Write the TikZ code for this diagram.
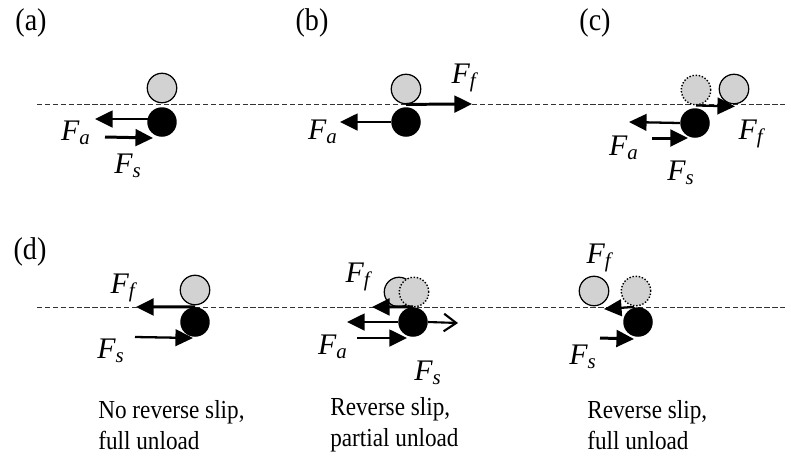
\documentclass[tikz,border=0pt]{standalone}
\usepackage{fontspec}
\setmainfont{Liberation Serif}
\usetikzlibrary{arrows.meta,positioning,calc}
\definecolor{Grain}{HTML}{D2D2D2}
\newcommand{\fsym}[1]{{\itshape F}\textsubscript{\itshape #1}}
\newcommand{\tallr}[1]{\scalebox{1}[1.12]{#1}}

\begin{document}
\begin{tikzpicture}[x=0.02cm,y=-0.02cm,
  grain/.style={circle,draw=black,line width=0.7pt,fill=Grain,minimum size=0.59cm,inner sep=0pt},
  ghost/.style={circle,draw=black,densely dotted,line width=0.8pt,fill=Grain,minimum size=0.59cm,inner sep=0pt},
  core/.style={circle,fill=black,minimum size=0.59cm,inner sep=0pt},
  force/.style={line width=1.3pt,-{Triangle[length=10pt,width=9.5pt]}},
  bigforce/.style={line width=1.7pt,-{Triangle[length=10pt,width=9.5pt]}},
  openforce/.style={line width=1.2pt,-{Straight Barb[length=7pt,width=10pt,line width=1.2pt]}},
  flabel/.style={font=\fontsize{17}{19}\selectfont,inner sep=0pt},
  tag/.style={font=\fontsize{16}{19}\selectfont,inner sep=0pt},
  caption/.style={font=\fontsize{13.2}{17.5}\selectfont,align=left,anchor=west,inner sep=0pt}]
\useasboundingbox (0,0) rectangle (791,468);
% surfaces
\draw[black!80,line width=0.5pt,dash pattern=on 3pt off 1.5pt] (37,104) -- (785,104);
\draw[black!80,line width=0.5pt,dash pattern=on 3pt off 1.5pt] (37,307) -- (785,307);
% panel tags
\node[tag] (tagA) at (31,23) {\tallr{(a)}};
\node[tag] (tagB) at (312,23) {\tallr{(b)}};
\node[tag] (tagC) at (595,23) {\tallr{(c)}};
\node[tag] (tagD) at (30,252) {\tallr{(d)}};

% (a)
\node[grain] (gA) at (162,88) {};
\node[core] (bA) at (162,122) {};
\coordinate (faA) at (95,119);
\coordinate (fsA) at (105,137);
\draw[force] ($(bA.center)+(-6,-3)$) -- (faA);
\draw[bigforce] (fsA) -- ($(bA.center)+(-9,16)$);
\node[flabel] (lfaA) at (76,133) {\fsym{a}};
\node[flabel] (lfsA) at (128,166) {\fsym{s}};

% (b)
\node[grain] (gB) at (406,89) {};
\node[core] (bB) at (406,122) {};
\coordinate (ffB) at (472,104);
\coordinate (faB) at (340,122);
\draw[bigforce] (gB.south) -- (ffB);
\draw[force] (bB.west) -- (faB);
\node[flabel] (lffB) at (464,78) {\fsym{f}};
\node[flabel] (lfaB) at (323,132) {\fsym{a}};

% (c)
\node[ghost] (hC) at (696,90) {};
\node[grain] (gC) at (734,89) {};
\node[core] (bC) at (695,123) {};
\coordinate (faC) at (629,122);
\coordinate (fsC) at (652,138);
\draw[force] (hC.south) -- ($(gC.south)+(1,2)$);
\draw[force] (bC.west) -- (faC);
\draw[bigforce] (fsC) -- ($(bC.center)+(-7,15)$);
\node[flabel] (lffC) at (751,134) {\fsym{f}};
\node[flabel] (lfaC) at (624,148) {\fsym{a}};
\node[flabel] (lfsC) at (681,173) {\fsym{s}};

% (d) no reverse slip
\node[grain] (gD1) at (195,290) {};
\node[core] (bD1) at (195,322) {};
\coordinate (ffD1) at (136,307);
\coordinate (fsD1) at (135,337);
\draw[bigforce] (bD1.north) -- (ffD1);
\draw[force] (fsD1) -- ($(bD1.center)+(-2,16)$);
\node[flabel] (lffD1) at (123,288) {\fsym{f}};
\node[flabel] (lfsD1) at (111,351) {\fsym{s}};

% (d) reverse slip, partial unload
\node[grain] (gD2) at (399,292) {};
\node[ghost] (hD2) at (414,292) {};
\node[core] (bD2) at (413,322) {};
\coordinate (ffD2) at (372,307);
\coordinate (faD2) at (347,322);
\coordinate (fsD2) at (458,323);
\coordinate (fxD2) at (357,338);
\draw[bigforce] (bD2.north) -- (ffD2);
\draw[force] (bD2.west) -- (faD2);
\draw[openforce] (bD2.east) -- (fsD2);
\draw[force] (fxD2) -- ($(bD2.center)+(-6,16)$);
\node[flabel] (lffD2) at (358,277) {\fsym{f}};
\node[flabel] (lfaD2) at (333,347) {\fsym{a}};
\node[flabel] (lfsD2) at (428,373) {\fsym{s}};

% (d) reverse slip, full unload
\node[grain] (gD3) at (594,291) {};
\node[ghost] (hD3) at (636,291) {};
\node[core] (bD3) at (638,322) {};
\coordinate (ffD3) at (604,309);
\coordinate (fsD3) at (600,338);
\draw[force] ($(bD3.north)+(-4,0)$) -- (ffD3);
\draw[bigforce] (fsD3) -- ($(bD3.center)+(-4,17)$);
\node[flabel] (lffD3) at (599,258) {\fsym{f}};
\node[flabel] (lfsD3) at (583,357) {\fsym{s}};

% captions
\node[caption] (capD1) at (98,425) {\tallr{No reverse slip,}\\\tallr{full unload}};
\node[caption] (capD2) at (330,425) {\tallr{Reverse slip,}\\\tallr{partial unload}};
\node[caption] (capD3) at (587,425) {\tallr{Reverse slip,}\\\tallr{full unload}};
\end{tikzpicture}
\end{document}
